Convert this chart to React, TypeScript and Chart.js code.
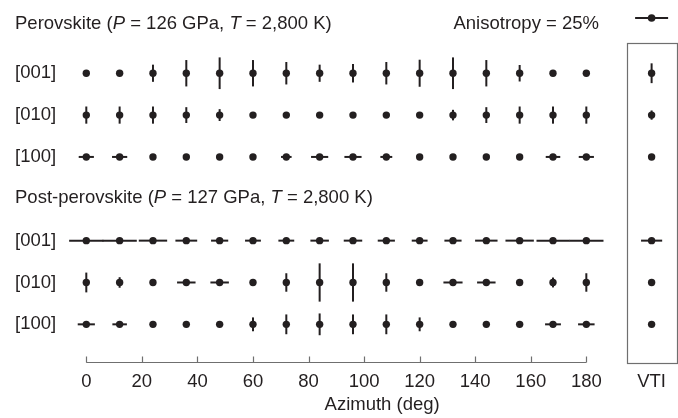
import { useEffect, useRef } from "react";
import { Chart, registerables } from "chart.js";

Chart.register(...registerables);

// ---------- data ----------
const azimuths = [0, 12, 24, 36, 48, 60, 72, 84, 96, 108, 120, 132, 144, 156, 168, 180];
const xTickValues = [0, 20, 40, 60, 80, 100, 120, 140, 160, 180];
const vtiPosition = 203.5;
const vtiLabel = "VTI";
const xTitle = "Azimuth (deg)";

const rowLabels = ["[001]", "[010]", "[100]", "[001]", "[010]", "[100]"];
const rowPositions = [0, 1, 2, 4, 5, 6];

// anisotropy in % ; positive = vertical bar, negative = horizontal bar
const perovskite001 = [0, 0, 13, 20, 24, 20, 17, 13, 14, 17, 20.5, 24, 20, 12.5, 0, 0];
const perovskite010 = [13, 13, 13, 12, 9, 0, 0, 0, 0, 0, 0, 8, 12, 13, 13, 13];
const perovskite100 = [-11.5, -11.5, 0, 0, 0, 0, -8, -13, -13, -9, 0, 0, 0, 0, -11, -11.5];
const postPerovskite001 = [-26, -26, -21.5, -16.5, -13, -12, -12, -14, -14, -13, -12, -13, -17, -21.5, -25, -26];
const postPerovskite010 = [15, 8, 0, -14, -14, 0, 14, 29, 29, 14, 0, -14.5, -14, 0, 7.5, 14];
const postPerovskite100 = [-13, -11, 0, 0, 0, 10.5, 15, 16.5, 15, 15, 10.5, 0, 0, 0, -12, -12.5];
const vtiValues = [15, 7, 0, -16, 0, 0];

const legendAnisotropy = 25;

const perovskiteTitle: [string, boolean][] = [
  ["Perovskite (", false], ["P", true], [" = 126 GPa, ", false], ["T", true], [" = 2,800 K)", false],
];
const postPerovskiteTitle: [string, boolean][] = [
  ["Post-perovskite (", false], ["P", true], [" = 127 GPa, ", false], ["T", true], [" = 2,800 K)", false],
];

// ---------- style ----------
const INK = "#231f20";
const GREY = "#6f6f6f";
const FAMILY = "'Liberation Sans', Arial, Helvetica, sans-serif";
const FONT_SIZE = 18.5;
const PX_PER_PERCENT = 1.32;

const rows = [perovskite001, perovskite010, perovskite100, postPerovskite001, postPerovskite010, postPerovskite100];

function drawRich(ctx: CanvasRenderingContext2D, segs: [string, boolean][], x: number, y: number) {
  let cx = x;
  ctx.textBaseline = "middle";
  ctx.textAlign = "left";
  for (const [t, it] of segs) {
    ctx.font = `${it ? "italic " : ""}${FONT_SIZE}px ${FAMILY}`;
    ctx.fillText(t, cx, y);
    cx += ctx.measureText(t).width;
  }
}

function drawGlyph(ctx: CanvasRenderingContext2D, x: number, y: number, a: number) {
  if (!a) return;
  const half = (Math.abs(a) * PX_PER_PERCENT) / 2;
  ctx.beginPath();
  if (a > 0) {
    ctx.moveTo(x, y - half);
    ctx.lineTo(x, y + half);
  } else {
    ctx.moveTo(x - half, y);
    ctx.lineTo(x + half, y);
  }
  ctx.stroke();
}

const glyphPlugin = {
  id: "glyphs",
  beforeDatasetsDraw(chart: any) {
    const ctx = chart.ctx as CanvasRenderingContext2D;
    ctx.save();
    ctx.strokeStyle = INK;
    ctx.lineWidth = 2;
    chart.data.datasets.forEach((ds: any, di: number) => {
      const meta = chart.getDatasetMeta(di);
      meta.data.forEach((pt: any, i: number) => drawGlyph(ctx, pt.x, pt.y, ds.anisotropy[i]));
    });
    ctx.restore();
  },
  afterDraw(chart: any) {
    const ctx = chart.ctx as CanvasRenderingContext2D;
    const xs = chart.scales.x;
    const ys = chart.scales.y;
    const bottom = Math.round(chart.chartArea.bottom) + 0.5;
    ctx.save();
    // axis line and ticks
    ctx.strokeStyle = GREY;
    ctx.lineWidth = 1.2;
    ctx.beginPath();
    ctx.moveTo(xs.getPixelForValue(xTickValues[0]), bottom);
    ctx.lineTo(xs.getPixelForValue(xTickValues[xTickValues.length - 1]), bottom);
    for (const v of xTickValues) {
      const px = Math.round(xs.getPixelForValue(v)) + 0.5;
      ctx.moveTo(px, bottom);
      ctx.lineTo(px, bottom - 6);
    }
    ctx.stroke();
    // VTI box
    const vx = xs.getPixelForValue(vtiPosition);
    const top = Math.round(ys.getPixelForValue(-0.72)) + 0.5;
    ctx.strokeRect(Math.round(vx - 24.5) + 0.5, top, 50, bottom + 1 - top);
    // titles
    ctx.fillStyle = INK;
    drawRich(ctx, perovskiteTitle, 15, ys.getPixelForValue(-1.18));
    drawRich(ctx, postPerovskiteTitle, 15, ys.getPixelForValue(2.98));
    // legend
    ctx.font = `${FONT_SIZE}px ${FAMILY}`;
    ctx.textAlign = "right";
    ctx.textBaseline = "middle";
    const ly = ys.getPixelForValue(-1.32);
    ctx.fillText(`Anisotropy = ${legendAnisotropy}%`, 599, ys.getPixelForValue(-1.18));
    ctx.strokeStyle = INK;
    ctx.lineWidth = 2;
    drawGlyph(ctx, vx, ly, -legendAnisotropy);
    ctx.beginPath();
    ctx.arc(vx, ly, 3.8, 0, Math.PI * 2);
    ctx.fill();
    ctx.restore();
  },
};

export default function App() {
  const ref = useRef<HTMLCanvasElement | null>(null);
  useEffect(() => {
    document.body.style.margin = "0";
    if (!ref.current) return;
    Chart.defaults.font.family = FAMILY;
    Chart.defaults.color = INK;
    const datasets = rows.map((vals, r) => ({
      label: rowLabels[r],
      data: [
        ...azimuths.map((az) => ({ x: az, y: rowPositions[r] })),
        { x: vtiPosition, y: rowPositions[r] },
      ],
      anisotropy: [...vals, vtiValues[r]],
      pointRadius: 3.7,
      pointHoverRadius: 3.7,
      pointBackgroundColor: INK,
      pointBorderWidth: 0,
      showLine: false,
      clip: false as const,
    }));
    const chart = new Chart(ref.current, {
      type: "scatter",
      data: { datasets: datasets as any },
      plugins: [glyphPlugin],
      options: {
        animation: false,
        responsive: false,
        devicePixelRatio: 1,
        layout: { autoPadding: false, padding: { left: 15, right: 0, top: 0, bottom: 0 } },
        plugins: { legend: { display: false }, tooltip: { enabled: false } },
        events: [],
        scales: {
          x: {
            type: "linear",
            min: 0,
            max: 213,
            grid: { display: false, drawTicks: false },
            border: { display: false },
            afterBuildTicks: (s: any) => {
              s.ticks = [...xTickValues, vtiPosition].map((v) => ({ value: v }));
            },
            afterFit: (s: any) => {
              s.height = 56;
              s.paddingLeft = 0;
              s.paddingRight = 0;
            },
            ticks: {
              autoSkip: false,
              maxRotation: 0,
              padding: 9,
              color: INK,
              font: { size: FONT_SIZE },
              callback: (v: any) => (v === vtiPosition ? vtiLabel : String(v)),
            },
            title: {
              display: true,
              text: xTitle,
              color: INK,
              font: { size: FONT_SIZE },
              padding: { top: 2, bottom: 1.5 },
            },
          },
          y: {
            type: "linear",
            reverse: true,
            min: -1.75,
            max: 6.9,
            grid: { display: false, drawTicks: false },
            border: { display: false },
            afterBuildTicks: (s: any) => {
              s.ticks = rowPositions.map((v) => ({ value: v }));
            },
            afterFit: (s: any) => {
              s.width = 71.3;
              s.paddingTop = 0;
              s.paddingBottom = 0;
            },
            ticks: {
              autoSkip: false,
              crossAlign: "far",
              color: INK,
              font: { size: FONT_SIZE },
              callback: (v: any) => rowLabels[rowPositions.indexOf(v)] ?? "",
            },
          },
        },
      } as any,
    });
    return () => chart.destroy();
  }, []);
  return (
    <div style={{ width: 678, height: 418, background: "#fff" }}>
      <canvas ref={ref} width={678} height={418} />
    </div>
  );
}
